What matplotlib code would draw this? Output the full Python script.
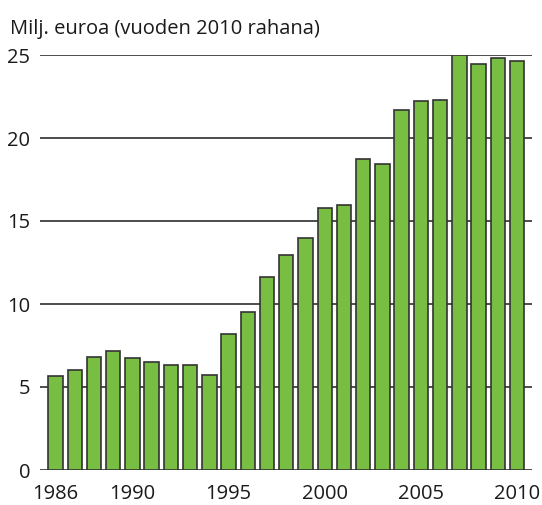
import matplotlib
matplotlib.use("Agg")
import matplotlib.pyplot as plt

# Data
years = list(range(1986, 2011))
values = [5.68, 6.0, 6.83, 7.15, 6.73, 6.49, 6.30, 6.30, 5.74, 8.21, 9.54,
          11.63, 12.95, 14.0, 15.76, 15.94, 18.73, 18.43, 21.7, 22.23, 22.31,
          25.0, 24.46, 24.8, 24.66]
xticks = [1986, 1990, 1995, 2000, 2005, 2010]
yticks = [0, 5, 10, 15, 20, 25]

plt.rcParams['font.family'] = ['Open Sans', 'DejaVu Sans']

fig = plt.figure(figsize=(5.42, 5.05), dpi=100)
ax = fig.add_axes([40/542, 35/505, 492/542, 415/505])

ax.bar(years, values, width=0.75, color='#78be43', edgecolor='#333333',
       linewidth=1.2, zorder=3)

ax.set_xlim(1985.19, 2010.78)
ax.set_ylim(0, 25)
ax.set_xticks(xticks)
ax.set_yticks(yticks)
ax.grid(axis='y', color='#4d4d4d', linewidth=1.4, zorder=0)
ax.set_axisbelow(True)
for s in ax.spines.values():
    s.set_visible(False)
ax.tick_params(length=0, labelsize=14.5, colors='#1a1a1a')
ax.tick_params(axis='y', pad=7)
ax.tick_params(axis='x', pad=10)

fig.text(10/542, 1 - 29/505, 'Milj. euroa (vuoden 2010 rahana)', fontsize=14.5,
         color='#1a1a1a', va='center', ha='left')

fig.savefig('out.png', dpi=100)
